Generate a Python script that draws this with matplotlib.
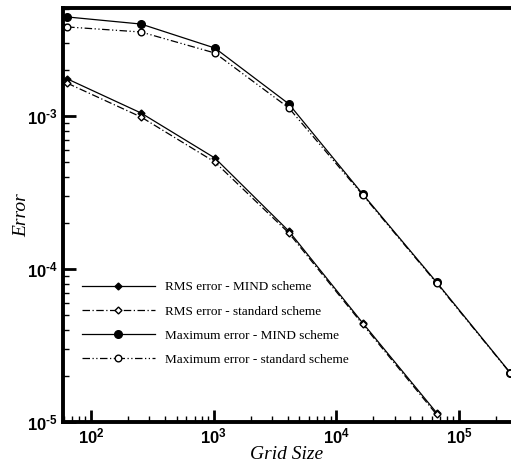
import matplotlib
matplotlib.use('Agg')
import numpy as np
import matplotlib.pyplot as plt
from matplotlib.ticker import LogLocator, NullFormatter, FuncFormatter

plt.rcParams['mathtext.fontset'] = 'custom'
plt.rcParams['mathtext.rm'] = 'Liberation Sans:bold'
plt.rcParams['mathtext.it'] = 'Liberation Sans:bold'
plt.rcParams['mathtext.bf'] = 'Liberation Sans:bold'
plt.rcParams['mathtext.default'] = 'bf'

grid_size = [64, 256, 1024, 4096, 16384, 65536, 262144]

rms_mind = [1.75e-3, 1.046e-3, 5.31e-4, 1.77e-4, 4.44e-5, 1.15e-5]
rms_standard = [1.64e-3, 9.85e-4, 5.0e-4, 1.72e-4, 4.35e-5, 1.12e-5]
max_mind = [4.44e-3, 3.99e-3, 2.78e-3, 1.2e-3, 3.09e-4, 8.2e-5, 2.09e-5]
max_standard = [3.82e-3, 3.54e-3, 2.58e-3, 1.13e-3, 3.05e-4, 8.1e-5, 2.08e-5]

labels = ['RMS error - MIND scheme',
          'RMS error - standard scheme',
          'Maximum error - MIND scheme',
          'Maximum error - standard scheme']


def pow10(val, pos):
    e = int(round(np.log10(val)))
    if e < 0:
        return r'$\mathbf{10^{\text{-%d}}}$' % (-e)
    return r'$\mathbf{10^{%d}}$' % e


fig = plt.figure(figsize=(5.11, 4.70), dpi=100)
ax = fig.add_axes([63 / 511, 1 - 422 / 470, 448 / 511, 414 / 470])

n = len(rms_mind)
ax.plot(grid_size[:n], rms_mind, color='black', linewidth=0.9, linestyle='-',
        marker='D', markersize=3.5, markerfacecolor='black', label=labels[0])
ax.plot(grid_size[:n], rms_standard, color='black', linewidth=0.9,
        linestyle=(0, (6, 2, 1, 2)), marker='D', markersize=3.5,
        markerfacecolor='white', label=labels[1])
ax.plot(grid_size, max_mind, color='black', linewidth=0.9, linestyle='-',
        marker='o', markersize=5.5, markerfacecolor='black', label=labels[2])
ax.plot(grid_size, max_standard, color='black', linewidth=0.9,
        linestyle=(0, (6, 2, 1, 2, 1, 2)), marker='o', markersize=4.8,
        markerfacecolor='white', label=labels[3])

ax.set_xscale('log')
ax.set_yscale('log')
ax.set_xlim(59.2, 2.65e5)
ax.set_ylim(1e-5, 5.08e-3)

for side in ['left', 'bottom', 'top']:
    ax.spines[side].set_linewidth(2.8)
ax.spines['right'].set_visible(False)

ax.xaxis.set_minor_locator(LogLocator(base=10, subs=range(2, 10), numticks=20))
ax.yaxis.set_minor_locator(LogLocator(base=10, subs=range(2, 10), numticks=20))
ax.xaxis.set_minor_formatter(NullFormatter())
ax.yaxis.set_minor_formatter(NullFormatter())
ax.xaxis.set_major_formatter(FuncFormatter(pow10))
ax.yaxis.set_major_formatter(FuncFormatter(pow10))
ax.tick_params(which='major', direction='in', length=9, width=2, labelsize=12,
               top=False, right=False, pad=4)
ax.tick_params(which='minor', direction='in', length=4, width=1,
               top=False, right=False)

ax.set_xlabel('Grid Size', fontfamily='Liberation Serif', fontstyle='italic',
              fontsize=14, labelpad=-1)
ax.set_ylabel('Error', fontfamily='Liberation Serif', fontstyle='italic',
              fontsize=14, labelpad=-3)

ax.legend(loc='lower left', bbox_to_anchor=(0.031, 0.123), frameon=False,
          prop={'family': 'Liberation Serif', 'size': 9.5},
          handlelength=5.5, labelspacing=0.9, handletextpad=0.8,
          borderaxespad=0)

plt.savefig('out.png', dpi=100)
